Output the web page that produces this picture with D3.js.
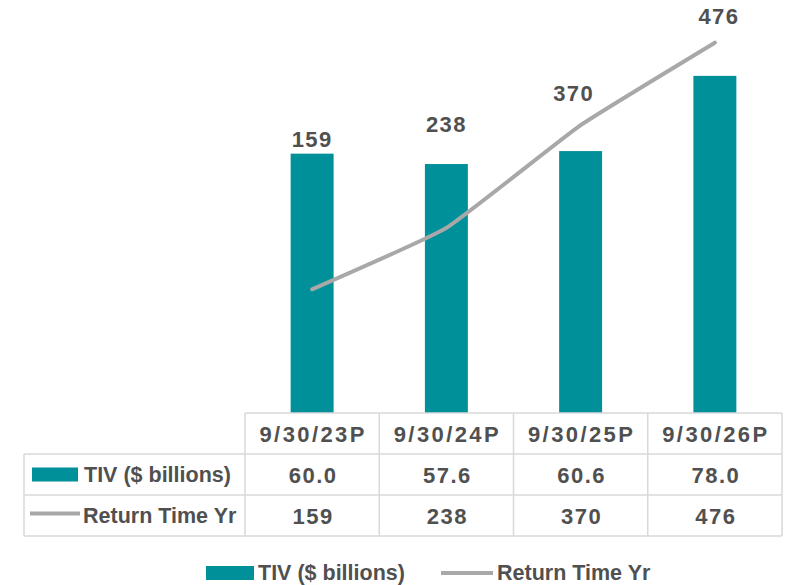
<!DOCTYPE html>
<html>
<head>
<meta charset="utf-8">
<script src="https://cdn.jsdelivr.net/npm/d3@7"></script>
<style>
  html, body { margin: 0; padding: 0; background: #fff; }
  svg { display: block; }
  text { font-family: "Liberation Sans", Arial, Helvetica, sans-serif; font-weight: bold; fill: #505050; }
</style>
</head>
<body>
<svg id="chart" width="785" height="585"></svg>
<script>
// ---- data ----
const categories = ["9/30/23P", "9/30/24P", "9/30/25P", "9/30/26P"];
const tivValues = [60.0, 57.6, 60.6, 78.0];
const returnTimeValues = [159, 238, 370, 476];
const seriesNames = ["TIV ($ billions)", "Return Time Yr"];
const tivLabels = ["60.0", "57.6", "60.6", "78.0"];
const returnLabels = ["159", "238", "370", "476"];

// ---- layout / style (not data) ----
const labelDx = [0, 0, -7, 4];
const labelDy = [-142, -96, -24, -19];
const teal = "#00909a";
const gray = "#a8a8a8";
const gridColor = "#d9d9d9";

const svg = d3.select("#chart");
const plotLeft = 245, plotRight = 782, plotTop = 24, plotBottom = 413;
const tableLeft = 24;
const rowEdges = [413, 454, 495, 536];

const x = d3.scaleBand().domain(categories).range([plotLeft, plotRight]).paddingInner(0).paddingOuter(0);
const yBar = d3.scaleLinear().domain([0, 90]).range([plotBottom, plotTop]);
const yLine = d3.scaleLinear().domain([0, 500]).range([plotBottom, plotTop]);
const barW = x.bandwidth() * 0.32;

// bars
svg.append("g").selectAll("rect").data(tivValues).join("rect")
  .attr("x", (d, i) => x(categories[i]) + x.bandwidth() / 2 - barW / 2)
  .attr("y", d => yBar(d))
  .attr("width", barW)
  .attr("height", d => yBar(0) - yBar(d))
  .attr("fill", teal);

// line
const line = d3.line()
  .x((d, i) => x(categories[i]) + x.bandwidth() / 2)
  .y(d => yLine(d))
  .curve(d3.curveCardinal.tension(0.65));
svg.append("path").datum(returnTimeValues)
  .attr("d", line)
  .attr("fill", "none")
  .attr("stroke", gray)
  .attr("stroke-width", 4)
  .attr("stroke-linecap", "round");

// line labels
svg.append("g").selectAll("text").data(returnTimeValues).join("text")
  .attr("x", (d, i) => x(categories[i]) + x.bandwidth() / 2 + labelDx[i])
  .attr("y", (d, i) => yLine(d) + labelDy[i])
  .attr("text-anchor", "middle")
  .attr("font-size", 22)
  .attr("letter-spacing", 1.3)
  .text((d, i) => returnLabels[i]);

// ---- data table ----
const tg = svg.append("g");
const colEdges = categories.map(c => x(c)).concat([plotRight]);
tg.append("line").attr("x1", plotLeft).attr("x2", plotRight).attr("y1", rowEdges[0]).attr("y2", rowEdges[0]);
[1, 2, 3].forEach(r => {
  tg.append("line").attr("x1", tableLeft).attr("x2", plotRight).attr("y1", rowEdges[r]).attr("y2", rowEdges[r]);
});
colEdges.forEach(cx => {
  tg.append("line").attr("x1", cx).attr("x2", cx).attr("y1", rowEdges[0]).attr("y2", rowEdges[3]);
});
tg.append("line").attr("x1", tableLeft).attr("x2", tableLeft).attr("y1", rowEdges[1]).attr("y2", rowEdges[3]);
tg.selectAll("line").attr("stroke", gridColor).attr("stroke-width", 1.5);

// header
tg.append("g").selectAll("text").data(categories).join("text")
  .attr("x", d => x(d) + x.bandwidth() / 2 + 1)
  .attr("y", (rowEdges[0] + rowEdges[1]) / 2 + 8)
  .attr("text-anchor", "middle")
  .attr("font-size", 22)
  .attr("letter-spacing", 2.4)
  .text(d => d);

// value rows
const rowsData = [tivLabels, returnLabels];
rowsData.forEach((vals, r) => {
  tg.append("g").selectAll("text").data(vals).join("text")
    .attr("x", (d, i) => x(categories[i]) + x.bandwidth() / 2 + 1)
    .attr("y", (rowEdges[r + 1] + rowEdges[r + 2]) / 2 + 8)
    .attr("text-anchor", "middle")
    .attr("font-size", 22)
    .attr("letter-spacing", 1.5)
    .text(d => d);
});

// row legend keys
const r1c = (rowEdges[1] + rowEdges[2]) / 2;
const r2c = (rowEdges[2] + rowEdges[3]) / 2;
tg.append("rect").attr("x", 32).attr("y", r1c - 7).attr("width", 46).attr("height", 14).attr("fill", teal);
tg.append("text").attr("x", 84).attr("y", r1c + 7.5).attr("font-size", 21.5).text(seriesNames[0]);
tg.append("line").attr("x1", 30).attr("x2", 80).attr("y1", r2c - 2).attr("y2", r2c - 2)
  .attr("stroke", gray).attr("stroke-width", 4);
tg.append("text").attr("x", 83).attr("y", r2c + 7.5).attr("font-size", 21.5).text(seriesNames[1]);

// ---- bottom legend ----
const lg = svg.append("g");
lg.append("rect").attr("x", 206).attr("y", 566).attr("width", 48).attr("height", 14).attr("fill", teal);
lg.append("text").attr("x", 258).attr("y", 580).attr("font-size", 21.5).text(seriesNames[0]);
lg.append("line").attr("x1", 441).attr("x2", 493).attr("y1", 573).attr("y2", 573)
  .attr("stroke", gray).attr("stroke-width", 4);
lg.append("text").attr("x", 497).attr("y", 580).attr("font-size", 21.5).text(seriesNames[1]);
</script>
</body>
</html>
